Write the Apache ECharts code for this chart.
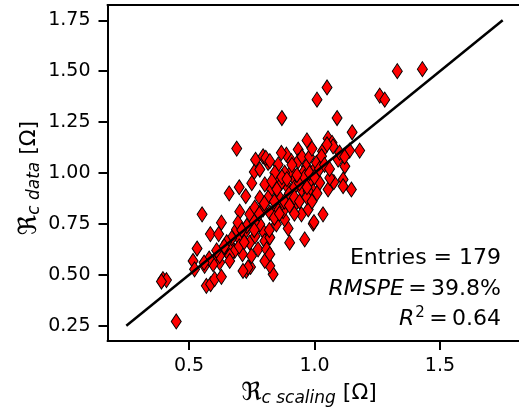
<!DOCTYPE html>
<html>
<head>
<meta charset="utf-8">
<script src="https://cdn.jsdelivr.net/npm/echarts@6/dist/echarts.min.js"></script>
<style>html,body{margin:0;padding:0;background:#fff;overflow:hidden}#c{width:519px;height:411px}</style>
</head>
<body>
<div id="c"></div>
<script>
// scaling (x) vs data (y)
var points = [
[1.43,1.51],[1.33,1.50],[1.26,1.38],[1.28,1.36],[1.05,1.42],[1.01,1.36],[0.87,1.27],[1.09,1.27],
[1.15,1.20],[1.18,1.11],[1.14,1.11],[0.97,1.16],[0.935,1.115],[0.69,1.12],[0.66,0.90],[0.765,1.065],
[0.76,1.005],[0.75,0.95],[0.726,0.886],[1.054,1.17],[1.07,1.148],[1.032,1.107],[1.121,1.033],[1.094,1.066],
[1.114,0.968],[1.147,0.919],[1.077,0.955],[0.995,0.911],[0.888,1.09],[0.815,1.05],[0.795,1.082],[1.114,0.935],
[1.054,0.919],[1.061,0.976],[1.021,0.952],[0.868,1.099],[0.908,1.058],[0.935,1.058],[0.968,1.033],[0.955,1.001],
[0.981,0.96],[0.995,1.009],[1.008,1.05],[1.028,1.082],[0.908,1.009],[0.881,1.001],[0.855,1.041],[0.921,0.968],
[0.948,0.919],[0.895,0.927],[0.975,0.911],[0.868,0.952],[0.848,0.984],[0.806,1.074],[0.822,1.058],[0.782,1.017],
[0.802,0.944],[0.842,1.001],[0.828,0.919],[0.70,0.93],[0.782,0.878],[0.815,0.878],[1.074,1.131],[1.05,1.14],
[0.552,0.797],[0.629,0.756],[0.585,0.70],[0.618,0.70],[0.702,0.81],[0.689,0.723],[0.532,0.629],[0.516,0.568],
[0.522,0.527],[0.562,0.544],[0.569,0.446],[0.586,0.454],[0.602,0.479],[0.629,0.49],[0.606,0.576],[0.622,0.56],
[0.659,0.601],[0.669,0.637],[0.682,0.617],[0.728,0.519],[0.745,0.539],[0.713,0.601],[0.742,0.658],[0.763,0.69],
[0.396,0.479],[0.41,0.474],[0.39,0.467],[0.449,0.271],[0.835,0.503],[0.822,0.544],[0.802,0.568],[0.795,0.715],
[0.802,0.666],[0.901,0.658],[0.961,0.674],[0.895,0.728],[0.995,0.751],[1.034,0.797],[0.948,0.797],[0.881,0.772],
[0.875,0.813],[0.975,0.821],[0.998,0.759],[0.928,0.854],[0.862,0.837],[0.742,0.797],[0.762,0.83],[0.795,0.821],
[0.782,0.748],[0.722,0.707],[0.702,0.674],[0.822,0.683],[0.775,0.625],[0.809,0.625],[0.636,0.625],[0.622,0.593],
[0.662,0.593],[0.822,0.601],[0.749,0.593],[0.848,0.748],[0.848,0.83],[0.822,0.805],[0.596,0.552],[0.662,0.568],
[0.735,0.536],[0.715,0.519],[0.695,0.756],
[0.86,0.88],[0.88,0.86],[0.90,0.90],[0.92,0.93],[0.94,0.95],[0.96,0.98],[0.98,1.00],[1.00,0.98],
[1.02,1.02],[0.90,0.84],[0.92,0.88],[0.94,0.86],[0.97,0.88],[0.99,0.86],[1.01,0.90],[0.85,0.92],
[0.83,0.96],[0.87,0.98],[0.89,0.97],[0.91,1.04],[0.95,1.08],[0.98,1.08],[1.04,1.04],[1.06,1.02],
[0.84,0.86],[0.80,0.85],[0.78,0.80],[0.76,0.76],[0.73,0.74],[0.71,0.72],[0.67,0.68],[0.65,0.66],
[0.64,0.64],[0.61,0.62],[0.58,0.58],[0.56,0.56],[0.70,0.64],[0.72,0.66],[0.76,0.72],[0.82,0.72],
[0.84,0.78],[0.86,0.80],[0.92,0.80],[1.10,1.10],[1.12,1.08],[0.99,1.12],[0.93,0.99],[0.97,0.93]
];
var identityLine = [[0.25,0.25],[1.75,1.75]];
var xTicks = [0.5, 1.0, 1.5];
var yTicks = [0.25, 0.5, 0.75, 1.0, 1.25, 1.5, 1.75];

var chart = echarts.init(document.getElementById('c'), null, {renderer:'canvas'});
var F = 'DejaVu Sans';
var T = '\u2009';
chart.setOption({
  animation:false,
  grid:{left:107.5, top:5, right:-2.5, bottom:70, show:false, outerBoundsMode:'none', containLabel:false},
  xAxis:[{type:'value', min:0.175, max:1.825,
    axisLine:{lineStyle:{color:'#000', width:2}},
    axisTick:{customValues:xTicks, length:9, lineStyle:{color:'#000', width:2}},
    axisLabel:{customValues:xTicks, margin:16, color:'#000', fontFamily:F, fontSize:19, formatter:function(v){return v.toFixed(1);}},
    splitLine:{show:false}},
    {type:'value', position:'top', min:0.175, max:1.825,
    axisLine:{show:true, lineStyle:{color:'#000', width:2}},
    axisTick:{show:false}, axisLabel:{show:false}, splitLine:{show:false}}],
  yAxis:{type:'value', min:0.175, max:1.825,
    axisLine:{lineStyle:{color:'#000', width:2}},
    axisTick:{customValues:yTicks, length:9, lineStyle:{color:'#000', width:2}},
    axisLabel:{customValues:yTicks, margin:17, color:'#000', fontFamily:F, fontSize:19, formatter:function(v){return v.toFixed(2);}},
    splitLine:{show:false}},
  series:[
    {type:'scatter', data:points, symbol:'diamond', symbolSize:[10,15],
     itemStyle:{color:'#ff0000', borderColor:'#000', borderWidth:1, opacity:1}, z:2},
    {type:'line', data:identityLine, showSymbol:false, symbol:'none', lineStyle:{color:'#000', width:2.5}, z:3}
  ],
  graphic:[
    {type:'text', x:501, y:258, style:{text:'Entries = 179', font:'22px "DejaVu Sans"', fill:'#000', align:'right', verticalAlign:'middle'}},
    {type:'text', x:501, y:289, style:{text:'{i|RMSPE}{n|'+T+'='+T+'39.8%}', align:'right', verticalAlign:'middle',
      rich:{i:{fontFamily:F, fontStyle:'italic', fontSize:22, fill:'#000'}, n:{fontFamily:F, fontSize:22, fill:'#000'}}}},
    {type:'text', x:501, y:319, style:{text:'{i|R}{s|2}{n|'+T+'='+T+'0.64}', align:'right', verticalAlign:'middle',
      rich:{i:{fontFamily:F, fontStyle:'italic', fontSize:22, fill:'#000'}, s:{fontFamily:F, fontSize:15, fill:'#000', padding:[0,0,12,1]}, n:{fontFamily:F, fontSize:22, fill:'#000'}}}},
    {type:'text', x:309, y:393, style:{text:'{r|ℜ}{s|c scaling}{n| [Ω]}', align:'center', verticalAlign:'middle',
      rich:{r:{fontFamily:F, fontSize:25, fill:'#000'}, s:{fontFamily:F, fontStyle:'italic', fontSize:17, fill:'#000', padding:[11,0,0,0]}, n:{fontFamily:F, fontSize:22, fill:'#000'}}}},
    {type:'text', x:29, y:178, rotation:Math.PI/2, style:{text:'{r|ℜ}{s|c data}{n| [Ω]}', align:'center', verticalAlign:'middle',
      rich:{r:{fontFamily:F, fontSize:25, fill:'#000'}, s:{fontFamily:F, fontStyle:'italic', fontSize:17, fill:'#000', padding:[11,0,0,0]}, n:{fontFamily:F, fontSize:22, fill:'#000'}}}}
  ]
});
</script>
</body>
</html>
